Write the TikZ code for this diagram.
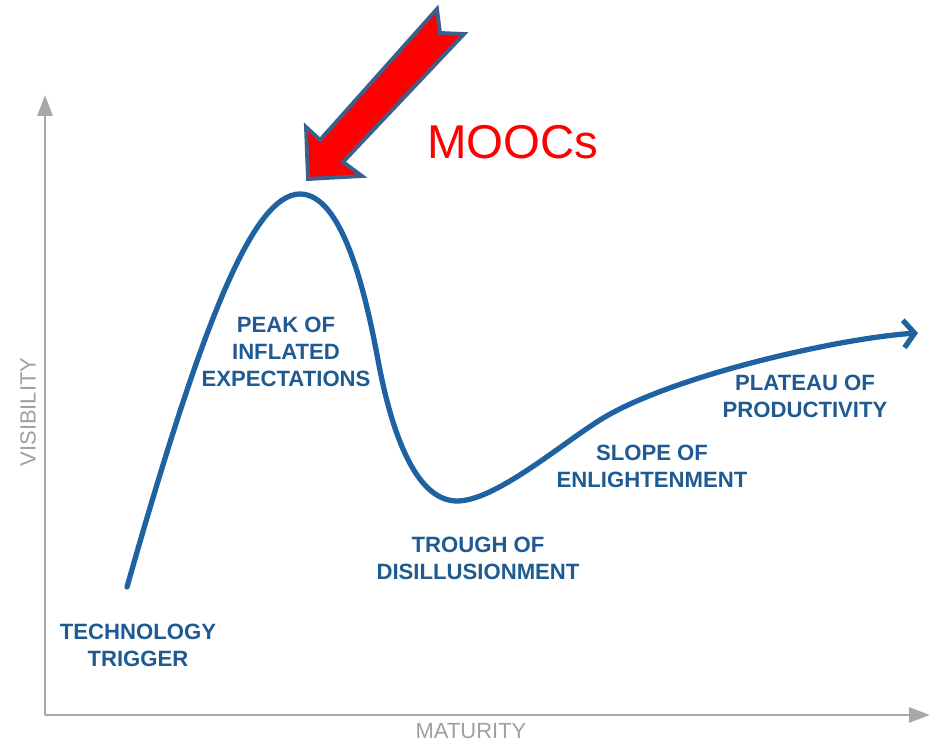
\documentclass[tikz,border=0pt]{standalone}
\usepackage{fontspec}
\setmainfont{Liberation Sans}
\usepackage{xcolor}
\usetikzlibrary{arrows.meta,positioning}
\definecolor{hypeblue}{HTML}{1E62A1}
\definecolor{labelblue}{HTML}{1F5B92}
\definecolor{axisgray}{HTML}{A6A9AC}
\definecolor{axistext}{HTML}{9DA1A5}
\definecolor{outlineblue}{HTML}{3D5F8C}

\begin{document}
\begin{tikzpicture}[
    x=0.02cm, y=-0.02cm,
    axis/.style={draw=axisgray, line width=1.7pt, -{Triangle[length=0.42cm, width=0.3cm]}},
    axislabel/.style={font=\fontsize{12.5}{14}\selectfont, text=axistext, inner sep=0pt},
    hype/.style={draw=hypeblue, line width=3pt, line cap=round, -{Straight Barb[length=0.22cm, width=0.55cm, line width=3pt]}},
    phase/.style={font=\bfseries\fontsize{12.6}{15.4}\selectfont, text=labelblue, align=center, inner sep=0pt},
    pointer/.style={fill=red, draw=outlineblue, line width=2.2pt, line join=miter}
]
\useasboundingbox (0,0) rectangle (930,743);

% Axes
\coordinate (origin) at (45,715);
\coordinate (ytop) at (45,95);
\coordinate (xend) at (930,715);
\draw[axis] (origin) -- (ytop);
\draw[axis] (origin) -- (xend);
\node[axislabel] (maturity) at (471,731) {MATURITY};
\node[axislabel, rotate=90] (visibility) at (28,412) {VISIBILITY};

% Hype curve
\coordinate (start) at (127,587);
\coordinate (top) at (300,194);
\coordinate (fall) at (378,360);
\coordinate (bottom) at (457,501);
\coordinate (rise) at (600,420);
\coordinate (stop) at (918,333);
\draw[hype] (start) .. controls (200,330) and (252,194) .. (top)
    .. controls (342,194) and (365,290) .. (fall)
    .. controls (394,446) and (420,501) .. (bottom)
    .. controls (495,501) and (560,445) .. (rise)
    .. controls (670,376) and (840,338) .. (stop);

% Phase labels
\node[phase] (trigger) at (138,645) {TECHNOLOGY\\TRIGGER};
\node[phase] (peak) at (286,352) {PEAK OF\\INFLATED\\EXPECTATIONS};
\node[phase] (trough) at (478,558) {TROUGH OF\\DISILLUSIONMENT};
\node[phase] (slope) at (652,466) {SLOPE OF\\ENLIGHTENMENT};
\node[phase] (plateau) at (805,396) {PLATEAU OF\\PRODUCTIVITY};

% Pointer to the peak
\draw[pointer] (437,9) -- (440,33) -- (464,34) -- (343,162) -- (362,176)
    -- (308,179) -- (306,127) -- (320,140) -- cycle;
\node[font=\fontsize{27}{30}\selectfont, text=red, inner sep=0pt] (moocs) at (513,142) {MOOCs};

\end{tikzpicture}
\end{document}
